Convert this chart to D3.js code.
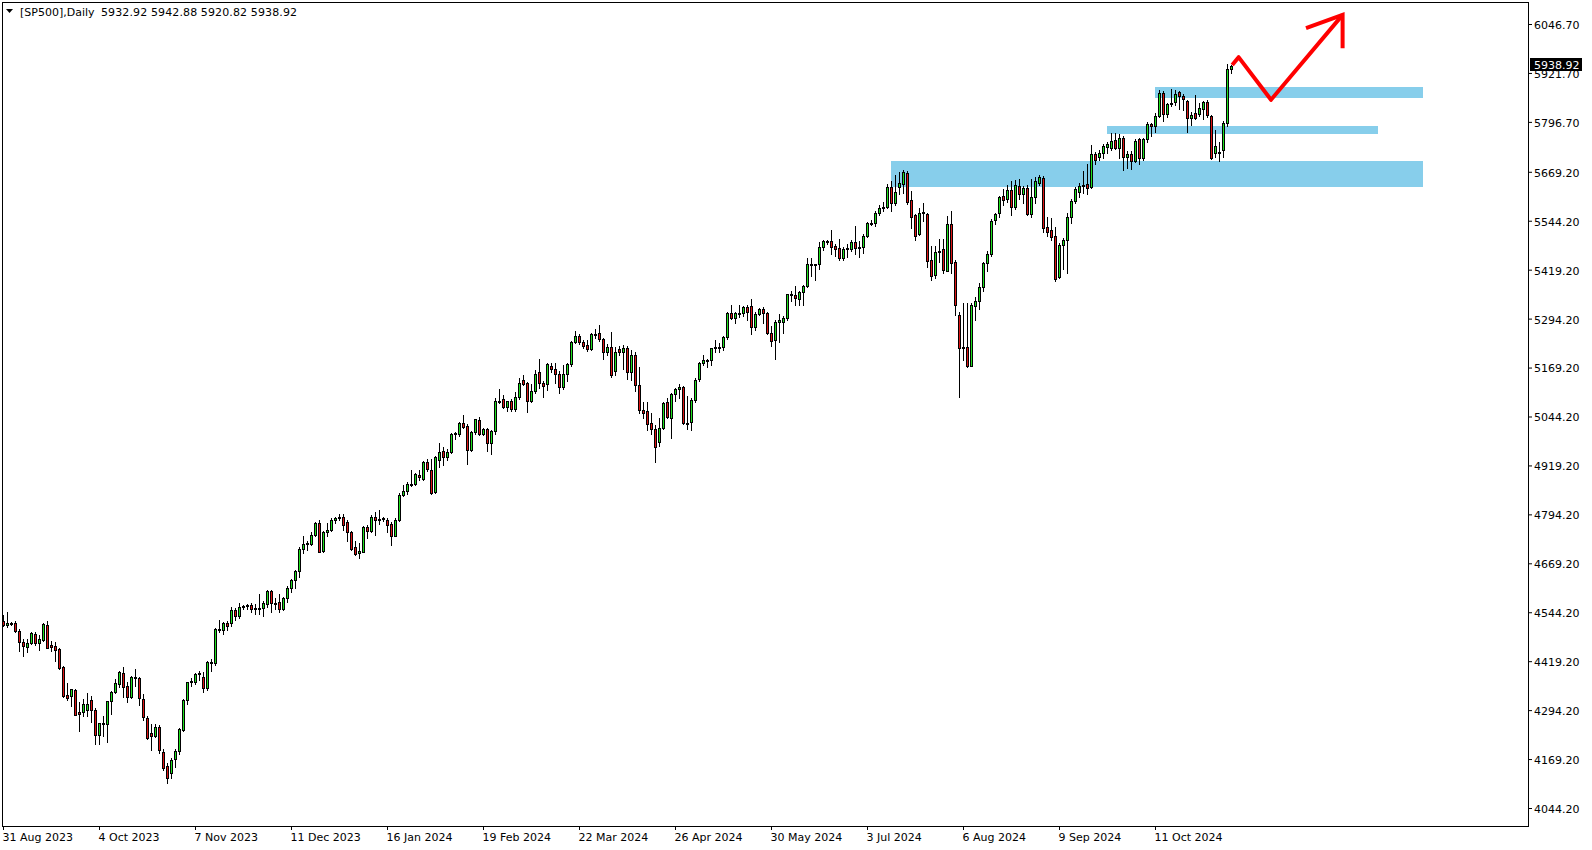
<!DOCTYPE html>
<html>
<head>
    <meta charset="utf-8">
    <script src="https://d3js.org/d3.v7.min.js"></script>
    <style>
        body { margin: 0; background: #fff; }
        svg text { font-family: "DejaVu Sans", sans-serif; font-size: 11px; }
    </style>
</head>
<body>
    <div id="my_dataviz"></div>
    <script>

        // daily bars, one per trading day (broker keeps some US holidays)
        var dates = [
            "2023-08-31",
            "2023-09-01","2023-09-04","2023-09-05","2023-09-06","2023-09-07","2023-09-08","2023-09-11","2023-09-12","2023-09-13","2023-09-14","2023-09-15","2023-09-18","2023-09-19","2023-09-20","2023-09-21","2023-09-22","2023-09-25","2023-09-26","2023-09-27","2023-09-28","2023-09-29",
            "2023-10-02","2023-10-03","2023-10-04","2023-10-05","2023-10-06","2023-10-09","2023-10-10","2023-10-11","2023-10-12","2023-10-13","2023-10-16","2023-10-17","2023-10-18","2023-10-19","2023-10-20","2023-10-23","2023-10-24","2023-10-25","2023-10-26","2023-10-27","2023-10-30","2023-10-31",
            "2023-11-01","2023-11-02","2023-11-03","2023-11-06","2023-11-07","2023-11-08","2023-11-09","2023-11-10","2023-11-13","2023-11-14","2023-11-15","2023-11-16","2023-11-17","2023-11-20","2023-11-21","2023-11-22","2023-11-23","2023-11-24","2023-11-27","2023-11-28","2023-11-29","2023-11-30",
            "2023-12-01","2023-12-04","2023-12-05","2023-12-06","2023-12-07","2023-12-08","2023-12-11","2023-12-12","2023-12-13","2023-12-14","2023-12-15","2023-12-18","2023-12-19","2023-12-20","2023-12-21","2023-12-22","2023-12-26","2023-12-27","2023-12-28","2023-12-29",
            "2024-01-02","2024-01-03","2024-01-04","2024-01-05","2024-01-08","2024-01-09","2024-01-10","2024-01-11","2024-01-12","2024-01-15","2024-01-16","2024-01-17","2024-01-18","2024-01-19","2024-01-22","2024-01-23","2024-01-24","2024-01-25","2024-01-26","2024-01-29","2024-01-30","2024-01-31",
            "2024-02-01","2024-02-02","2024-02-05","2024-02-06","2024-02-07","2024-02-08","2024-02-09","2024-02-12","2024-02-13","2024-02-14","2024-02-15","2024-02-16","2024-02-19","2024-02-20","2024-02-21","2024-02-22","2024-02-23","2024-02-26","2024-02-27","2024-02-28","2024-02-29",
            "2024-03-01","2024-03-04","2024-03-05","2024-03-06","2024-03-07","2024-03-08","2024-03-11","2024-03-12","2024-03-13","2024-03-14","2024-03-15","2024-03-18","2024-03-19","2024-03-20","2024-03-21","2024-03-22","2024-03-25","2024-03-26","2024-03-27","2024-03-28",
            "2024-04-01","2024-04-02","2024-04-03","2024-04-04","2024-04-05","2024-04-08","2024-04-09","2024-04-10","2024-04-11","2024-04-12","2024-04-15","2024-04-16","2024-04-17","2024-04-18","2024-04-19","2024-04-22","2024-04-23","2024-04-24","2024-04-25","2024-04-26","2024-04-29","2024-04-30",
            "2024-05-01","2024-05-02","2024-05-03","2024-05-06","2024-05-07","2024-05-08","2024-05-09","2024-05-10","2024-05-13","2024-05-14","2024-05-15","2024-05-16","2024-05-17","2024-05-20","2024-05-21","2024-05-22","2024-05-23","2024-05-24","2024-05-27","2024-05-28","2024-05-29","2024-05-30","2024-05-31",
            "2024-06-03","2024-06-04","2024-06-05","2024-06-06","2024-06-07","2024-06-10","2024-06-11","2024-06-12","2024-06-13","2024-06-14","2024-06-17","2024-06-18","2024-06-19","2024-06-20","2024-06-21","2024-06-24","2024-06-25","2024-06-26","2024-06-27","2024-06-28",
            "2024-07-01","2024-07-02","2024-07-03","2024-07-04","2024-07-05","2024-07-08","2024-07-09","2024-07-10","2024-07-11","2024-07-12","2024-07-15","2024-07-16","2024-07-17","2024-07-18","2024-07-19","2024-07-22","2024-07-23","2024-07-24","2024-07-25","2024-07-26","2024-07-29","2024-07-30","2024-07-31",
            "2024-08-01","2024-08-02","2024-08-05","2024-08-06","2024-08-07","2024-08-08","2024-08-09","2024-08-12","2024-08-13","2024-08-14","2024-08-15","2024-08-16","2024-08-19","2024-08-20","2024-08-21","2024-08-22","2024-08-23","2024-08-26","2024-08-27","2024-08-28","2024-08-29","2024-08-30",
            "2024-09-02","2024-09-03","2024-09-04","2024-09-05","2024-09-06","2024-09-09","2024-09-10","2024-09-11","2024-09-12","2024-09-13","2024-09-16","2024-09-17","2024-09-18","2024-09-19","2024-09-20","2024-09-23","2024-09-24","2024-09-25","2024-09-26","2024-09-27","2024-09-30",
            "2024-10-01","2024-10-02","2024-10-03","2024-10-04","2024-10-07","2024-10-08","2024-10-09","2024-10-10","2024-10-11","2024-10-14","2024-10-15","2024-10-16","2024-10-17","2024-10-18","2024-10-21","2024-10-22","2024-10-23","2024-10-24","2024-10-25","2024-10-28","2024-10-29","2024-10-30","2024-10-31",
            "2024-11-01","2024-11-04","2024-11-05","2024-11-06","2024-11-07"
        ];

        var opens = [
            4521,4512,4516,4517,4497,4467,4456,4465,4489,4466,
            4474,4512,4460,4458,4450,4405,4333,4329,4346,4289,
            4289,4295,4320,4295,4231,4261,4260,4317,4340,4361,
            4388,4355,4327,4380,4375,4322,4274,4237,4229,4251,
            4186,4152,4133,4169,4191,4243,4320,4365,4367,4386,
            4378,4350,4418,4414,4501,4500,4516,4516,4550,4535,
            4557,4560,4563,4553,4556,4554,4564,4598,4567,4570,
            4552,4580,4607,4627,4650,4707,4718,4718,4741,4771,
            4701,4750,4754,4780,4786,4788,4774,4748,4710,4695,
            4699,4761,4752,4787,4779,4782,4780,4770,4740,4781,
            4844,4854,4873,4873,4895,4884,4927,4907,4852,4933,
            4956,4940,4953,4999,4999,5027,5020,4959,5004,5035,
            5000,5012,4976,5007,5085,5088,5069,5084,5063,5093,
            5137,5129,5085,5109,5158,5129,5127,5173,5165,5153,
            5119,5153,5178,5235,5250,5235,5227,5217,5255,5258,
            5242,5210,5221,5160,5217,5210,5218,5159,5201,5125,
            5061,5058,5027,5012,4980,5016,5080,5040,5101,5114,
            5119,5028,5031,5086,5139,5180,5188,5188,5218,5221,
            5221,5246,5309,5295,5309,5309,5323,5326,5272,5306,
            5320,5308,5257,5240,5286,5286,5295,5356,5355,5344,
            5361,5378,5433,5434,5433,5476,5492,5492,5480,5474,
            5450,5472,5471,5489,5474,5476,5506,5538,5538,5563,
            5576,5580,5631,5589,5631,5638,5665,5597,5559,5510,
            5566,5561,5444,5406,5464,5472,5417,5536,5440,5303,
            5222,5221,5174,5327,5340,5375,5435,5459,5546,5565,
            5607,5599,5623,5580,5633,5612,5629,5561,5606,5641,
            5654,5529,5520,5506,5401,5482,5495,5555,5595,5618,
            5633,5637,5631,5715,5706,5718,5733,5729,5750,5731,
            5755,5708,5715,5697,5752,5705,5752,5791,5786,5812,
            5871,5816,5842,5847,5872,5863,5850,5806,5820,5818,
            5830,5847,5812,5716,5720,5725,5793,5932.92
        ];

        var highs = [
            4537,4544,4520,4522,4501,4476,4476,4495,4495,4486,
            4518,4521,4472,4467,4452,4406,4363,4349,4348,4314,
            4323,4337,4331,4299,4262,4280,4318,4342,4374,4393,
            4404,4365,4382,4399,4380,4335,4280,4260,4260,4255,
            4196,4158,4172,4196,4248,4322,4366,4375,4390,4394,
            4392,4420,4425,4505,4525,4520,4522,4557,4555,4568,
            4562,4566,4567,4564,4590,4572,4600,4600,4580,4592,
            4583,4610,4628,4652,4710,4740,4726,4748,4775,4780,
            4752,4773,4784,4788,4795,4794,4780,4752,4726,4721,
            4764,4768,4792,4800,4805,4788,4786,4775,4785,4848,
            4870,4876,4907,4900,4908,4930,4935,4935,4944,4976,
            4966,4960,5002,5004,5030,5049,5025,5006,5038,5042,
            5015,5016,5010,5092,5114,5098,5085,5088,5106,5142,
            5150,5132,5128,5163,5190,5135,5180,5182,5182,5160,
            5176,5182,5236,5262,5255,5240,5240,5258,5268,5278,
            5245,5230,5259,5222,5225,5228,5225,5215,5210,5170,
            5080,5080,5052,5022,5040,5080,5092,5105,5118,5128,
            5122,5096,5092,5142,5184,5202,5192,5220,5240,5232,
            5250,5312,5328,5310,5328,5326,5330,5345,5310,5322,
            5325,5312,5276,5290,5305,5300,5358,5365,5378,5366,
            5380,5450,5448,5434,5490,5495,5496,5520,5485,5498,
            5476,5486,5495,5530,5493,5510,5540,5545,5570,5585,
            5592,5638,5646,5660,5668,5674,5670,5620,5562,5578,
            5590,5564,5480,5480,5497,5497,5557,5568,5445,5310,
            5333,5333,5335,5350,5385,5440,5466,5548,5565,5608,
            5625,5635,5645,5648,5652,5632,5635,5650,5655,5660,
            5658,5555,5550,5528,5488,5500,5565,5600,5630,5640,
            5672,5690,5738,5720,5725,5740,5745,5768,5768,5767,
            5760,5722,5722,5752,5756,5755,5797,5795,5820,5877,
            5875,5846,5880,5878,5875,5868,5853,5822,5865,5845,
            5850,5852,5815,5775,5745,5798,5945,5942.88
        ];

        var lows = [
            4508,4506,4512,4495,4446,4433,4443,4463,4460,4449,
            4470,4452,4446,4420,4400,4328,4320,4304,4282,4242,
            4278,4278,4263,4208,4208,4229,4214,4284,4338,4352,
            4327,4314,4325,4357,4308,4270,4220,4193,4225,4185,
            4140,4107,4120,4150,4183,4240,4310,4355,4360,4370,
            4340,4345,4395,4410,4495,4488,4500,4508,4525,4530,
            4552,4553,4545,4540,4540,4535,4558,4546,4552,4546,
            4550,4570,4595,4605,4635,4695,4704,4715,4738,4697,
            4698,4740,4752,4773,4780,4755,4725,4702,4690,4682,
            4697,4735,4750,4742,4770,4778,4750,4716,4738,4776,
            4840,4845,4866,4868,4882,4882,4905,4846,4848,4915,
            4920,4932,4950,4986,4994,5016,4922,4955,4999,4996,
            4996,4955,4948,5000,5078,5066,5058,5058,5058,5090,
            5125,5056,5080,5105,5118,5095,5112,5158,5130,5105,
            5115,5135,5172,5232,5230,5218,5212,5215,5245,5238,
            5190,5200,5145,5150,5200,5165,5140,5138,5110,5052,
            5040,5010,5000,4929,4970,5012,5040,4990,5085,5092,
            5025,5012,5010,5080,5135,5176,5170,5176,5210,5210,
            5215,5242,5292,5284,5298,5300,5290,5255,5265,5304,
            5282,5255,5223,5191,5234,5258,5290,5338,5330,5330,
            5328,5375,5404,5393,5420,5470,5486,5460,5455,5445,
            5444,5452,5468,5460,5452,5462,5503,5534,5530,5560,
            5568,5578,5570,5585,5612,5615,5588,5525,5496,5508,
            5543,5425,5393,5398,5440,5410,5415,5410,5303,5093,
            5189,5170,5172,5290,5320,5365,5415,5455,5535,5555,
            5585,5592,5560,5575,5600,5590,5560,5555,5590,5635,
            5515,5505,5495,5390,5398,5420,5410,5538,5590,5605,
            5614,5612,5628,5690,5700,5705,5718,5726,5728,5704,
            5675,5680,5676,5695,5690,5700,5746,5760,5772,5808,
            5800,5810,5838,5840,5830,5828,5770,5790,5805,5812,
            5805,5810,5703,5708,5698,5708,5785,5920.82
        ];

        var closes = [
            4512,4516,4517,4497,4467,4457,4465,4492,4466,4476,
            4515,4454,4455,4449,4403,4329,4324,4348,4283,4285,
            4310,4310,4295,4231,4261,4259,4317,4340,4363,4391,
            4354,4327,4380,4376,4325,4276,4223,4229,4251,4192,
            4146,4121,4168,4189,4246,4320,4365,4368,4386,4388,
            4350,4418,4415,4501,4500,4516,4510,4550,4535,4557,
            4560,4562,4553,4556,4556,4567,4598,4567,4569,4552,
            4580,4607,4627,4650,4707,4718,4720,4741,4771,4699,
            4750,4754,4780,4786,4788,4767,4748,4707,4693,4701,
            4761,4752,4787,4779,4782,4784,4767,4740,4781,4844,
            4854,4873,4872,4897,4889,4927,4909,4850,4942,4953,
            4940,4953,5000,5001,5027,5018,4959,5004,5038,5000,
            5011,4976,5007,5084,5085,5068,5084,5063,5093,5131,
            5127,5085,5109,5154,5129,5122,5178,5165,5153,5119,
            5153,5178,5235,5250,5234,5223,5216,5255,5252,5242,
            5210,5221,5150,5208,5210,5218,5159,5201,5125,5062,
            5054,5024,5011,4967,5014,5078,5044,5101,5114,5119,
            5028,5025,5086,5137,5180,5188,5189,5218,5221,5221,
            5246,5308,5295,5308,5309,5323,5312,5272,5306,5318,
            5309,5257,5237,5286,5290,5295,5356,5355,5346,5361,
            5378,5433,5434,5433,5476,5492,5490,5476,5471,5448,
            5472,5474,5489,5474,5476,5506,5538,5538,5563,5576,
            5580,5631,5589,5618,5640,5668,5593,5555,5505,5563,
            5566,5442,5404,5464,5468,5418,5536,5437,5329,5218,
            5220,5174,5329,5340,5375,5435,5459,5543,5561,5606,
            5597,5623,5580,5635,5612,5629,5561,5606,5646,5657,
            5526,5516,5502,5395,5482,5495,5555,5595,5624,5633,
            5636,5629,5715,5699,5718,5736,5740,5749,5731,5755,
            5708,5715,5697,5748,5704,5752,5791,5787,5812,5871,
            5816,5842,5846,5868,5863,5855,5806,5814,5807,5833,
            5847,5813,5705,5735,5718,5793,5932,5938.92
        ];

        // price scale labels (as printed by the terminal) and dated bars on the time scale
        var priceTicks = [6046.70, 5921.70, 5796.70, 5669.20, 5544.20, 5419.20, 5294.20, 5169.20,
            5044.20, 4919.20, 4794.20, 4669.20, 4544.20, 4419.20, 4294.20, 4169.20, 4044.20];
        var dateTicks = [0, 24, 48, 72, 96, 120, 144, 168, 192, 216, 240, 264, 288];

        // drawn zones: bar index from/to, price top/bottom
        var zoneFrom = [222, 276, 288];
        var zoneTo = [355, 343.75, 355];
        var zoneTop = [5697, 5786, 5886];
        var zoneBottom = [5631, 5767, 5858];

        // hand drawn arrow: bar index / price
        var arrowBars = [307.3, 308.9, 317, 334.9];
        var arrowPrices = [5942, 5962, 5853, 6070];
        var headBars = [325.75, 334.9, 334.9];
        var headPrices = [6036, 6070, 5985];

        var width = 1592, height = 850;
        var plot = { left: 2, top: 2, right: 1528, bottom: 826 };

        var svg = d3.select("#my_dataviz")
            .append("svg")
            .attr("width", width)
            .attr("height", height)
            .style("display", "block");

        svg.append("rect").attr("width", width).attr("height", height).attr("fill", "#fff");

        // one bar every 4 px
        var x = d3.scaleLinear().domain([0, 307]).range([3, 1231]);
        var y = d3.scaleLinear().domain([4044.2, 6046.7]).range([808, 24]);

        var parse = d3.timeParse("%Y-%m-%d");
        var fmt = d3.timeFormat("%-d %b %Y");

        // zones first, candles on top
        svg.append("g")
            .selectAll("rect")
            .data(d3.range(zoneFrom.length))
            .join("rect")
            .attr("x", function (k) { return Math.round(x(zoneFrom[k])); })
            .attr("width", function (k) { return Math.round(x(zoneTo[k])) - Math.round(x(zoneFrom[k])); })
            .attr("y", function (k) { return Math.round(y(zoneTop[k])); })
            .attr("height", function (k) { return Math.round(y(zoneBottom[k])) - Math.round(y(zoneTop[k])); })
            .attr("fill", "#87ceeb");

        var bars = closes.map(function (c, i) {
            return { i: i, o: opens[i], h: highs[i], l: lows[i], c: c };
        });

        var candles = svg.append("g");

        candles.selectAll("line")
            .data(bars)
            .join("line")
            .attr("x1", function (d) { return Math.round(x(d.i)) + 0.5; })
            .attr("x2", function (d) { return Math.round(x(d.i)) + 0.5; })
            .attr("y1", function (d) { return Math.round(y(d.h)); })
            .attr("y2", function (d) { return Math.round(y(d.l)) + 1; })
            .attr("stroke", "#000")
            .attr("stroke-width", 1);

        candles.selectAll("rect")
            .data(bars)
            .join("rect")
            .attr("x", function (d) { return Math.round(x(d.i)) - 0.5; })
            .attr("y", function (d) { return Math.round(y(Math.max(d.o, d.c))) + 0.5; })
            .attr("width", 2)
            .attr("height", function (d) {
                return Math.max(1, Math.round(y(Math.min(d.o, d.c))) - Math.round(y(Math.max(d.o, d.c))));
            })
            .attr("fill", function (d) { return d.c >= d.o ? "#1ee01e" : "#dc1414"; })
            .attr("stroke", "#000")
            .attr("stroke-width", 1);

        // the red arrow
        var line = d3.line()
            .x(function (k) { return x(k[0]); })
            .y(function (k) { return y(k[1]); });
        svg.append("path")
            .attr("d", line(d3.zip(arrowBars, arrowPrices)))
            .attr("fill", "none")
            .attr("stroke", "#ff0000")
            .attr("stroke-width", 4)
            .attr("stroke-linejoin", "round");
        svg.append("path")
            .attr("d", line(d3.zip(headBars, headPrices)))
            .attr("fill", "none")
            .attr("stroke", "#ff0000")
            .attr("stroke-width", 4)
            .attr("stroke-linejoin", "miter");

        // frame
        svg.append("rect")
            .attr("x", plot.left + 0.5)
            .attr("y", plot.top + 0.5)
            .attr("width", plot.right - plot.left)
            .attr("height", plot.bottom - plot.top)
            .attr("fill", "none")
            .attr("stroke", "#000");

        // price axis
        var yAxis = svg.append("g")
            .attr("transform", "translate(" + plot.right + ",0)")
            .call(d3.axisRight(y).tickValues(priceTicks).tickFormat(d3.format(".2f")).tickSize(4).tickPadding(2));
        yAxis.select(".domain").remove();
        yAxis.attr("font-family", "DejaVu Sans").attr("font-size", 11);
        yAxis.selectAll("text").attr("dy", "0.4em").attr("fill", "#000");

        // time axis
        var xAxis = svg.append("g")
            .attr("transform", "translate(0," + plot.bottom + ")")
            .call(d3.axisBottom(x).tickValues(dateTicks)
                .tickFormat(function (i) { return fmt(parse(dates[i])); })
                .tickSize(4).tickPadding(3));
        xAxis.select(".domain").remove();
        xAxis.attr("font-family", "DejaVu Sans").attr("font-size", 11);
        xAxis.selectAll("text").attr("text-anchor", "start").attr("x", -1).attr("fill", "#000");

        // last price marker (covers the top of the label below it, as in the terminal)
        var last = closes.length - 1;
        var ly = Math.round(y(closes[last]));
        svg.append("rect")
            .attr("x", 1530)
            .attr("y", ly - 8)
            .attr("width", 52)
            .attr("height", 13)
            .attr("fill", "#000");
        svg.append("text")
            .attr("x", 1534)
            .attr("y", ly + 2.5)
            .attr("fill", "#fff")
            .text(d3.format(".2f")(closes[last]));

        // header
        svg.append("path")
            .attr("d", "M6,9L13,9L9.5,13Z")
            .attr("fill", "#000");
        svg.append("text")
            .attr("x", 20)
            .attr("y", 16)
            .attr("fill", "#000")
            .text("[SP500],Daily");
        svg.append("text")
            .attr("x", 101)
            .attr("y", 16)
            .attr("fill", "#000")
            .attr("textLength", 196)
            .text([opens[last], highs[last], lows[last], closes[last]].map(d3.format(".2f")).join(" "));

    </script>
</body>
</html>
